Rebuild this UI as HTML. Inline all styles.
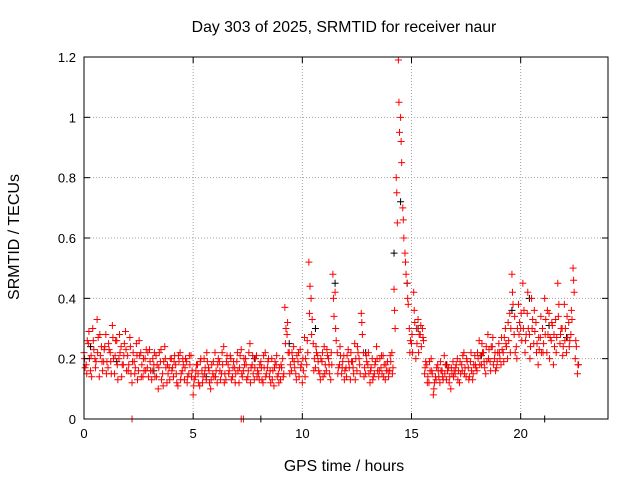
<!DOCTYPE html>
<html><head><meta charset="utf-8"><style>
body{margin:0;background:#fff}
svg{display:block;font-family:"Liberation Sans",sans-serif}
</style></head><body>
<svg id="c" width="640" height="480">
<text x="344" y="32" text-anchor="middle" font-size="15.8">Day 303 of 2025, SRMTID for receiver naur</text>
<text x="344" y="471" text-anchor="middle" font-size="15.8">GPS time / hours</text>
<text transform="translate(19,237) rotate(-90)" text-anchor="middle" font-size="16">SRMTID / TECUs</text>
<g id="grid"></g><g id="marks"></g><g id="axes"></g>
</svg>
<script>
const xTicks=[0,5,10,15,20];
const yTicks=[0,0.2,0.4,0.6,0.8,1,1.2];
const yTickLabels=["0","0.2","0.4","0.6","0.8","1","1.2"];
const redY=[
0.22,0.18,0.25,0.16,0.30,0.20,0.33,0.14,0.24,0.19,
0.28,0.17,0.22,0.31,0.15,0.26,0.20,0.24,0.18,0.29,
0.21,0.27,0.12,0.19,0.25,0.16,0.22,0.14,0.20,0.17,
0.23,0.13,0.18,0.21,0.10,0.19,0.15,0.24,0.12,0.17,
0.20,0.14,0.18,0.11,0.22,0.16,0.13,0.19,0.15,0.21,
0.08,0.14,0.18,0.11,0.16,0.20,0.13,0.17,0.10,0.15,
0.22,0.12,0.19,0.15,0.24,0.13,0.18,0.21,0.14,0.17,
0.19,0.12,0.23,0.16,0.20,0.14,0.25,0.18,0.13,0.21,
0.15,0.19,0.12,0.22,0.17,0.14,0.20,0.11,0.18,0.15,
0.13,0.20,0.37,0.28,0.22,0.16,0.24,0.15,0.19,0.23,
0.12,0.27,0.18,0.52,0.40,0.25,0.17,0.21,0.15,0.19,
0.24,0.16,0.20,0.13,0.48,0.42,0.22,0.18,0.15,0.21,
0.17,0.23,0.13,0.19,0.25,0.16,0.20,0.35,0.22,0.15,
0.18,0.12,0.20,0.15,0.24,0.14,0.17,0.21,0.13,0.19,
0.16,0.22,0.43,0.80,1.19,1.00,0.70,0.55,0.45,0.30,
0.25,0.42,0.20,0.33,0.28,0.30,0.15,0.18,0.12,0.20,
0.08,0.14,0.18,0.12,0.16,0.21,0.13,0.17,0.10,0.19,
0.15,0.20,0.12,0.18,0.22,0.14,0.17,0.19,0.13,0.21,
0.16,0.26,0.18,0.22,0.15,0.28,0.19,0.24,0.20,0.17,
0.25,0.18,0.22,0.30,0.20,0.35,0.48,0.28,0.24,0.38,
0.30,0.45,0.22,0.35,0.28,0.40,0.25,0.32,0.18,0.27,
0.30,0.40,0.22,0.35,0.26,0.18,0.33,0.45,0.25,0.30,
0.38,0.22,0.32,0.28,0.50,0.20,0.15];
const redY2=[
0.17,0.26,0.20,0.14,0.23,0.19,0.27,0.21,0.16,0.24,
0.19,0.23,0.15,0.20,0.26,0.13,0.22,0.18,0.25,0.16,
0.18,0.15,0.22,0.17,0.13,0.21,0.18,0.16,0.23,0.14,
0.16,0.20,0.14,0.18,0.22,0.13,0.19,0.17,0.15,0.20,
0.17,0.21,0.12,0.19,0.15,0.18,0.20,0.14,0.18,0.16,
0.13,0.18,0.12,0.20,0.14,0.17,0.19,0.12,0.18,0.14,
0.16,0.20,0.13,0.18,0.15,0.21,0.16,0.13,0.19,0.15,
0.16,0.21,0.14,0.18,0.13,0.22,0.17,0.15,0.20,0.16,
0.18,0.13,0.17,0.15,0.20,0.12,0.16,0.19,0.14,0.17,
0.17,0.15,0.30,0.22,0.18,0.20,0.17,0.21,0.14,0.18,
0.16,0.20,0.22,0.44,0.33,0.20,0.22,0.16,0.20,0.14,
0.18,0.21,0.15,0.18,0.34,0.26,0.17,0.21,0.19,0.16,
0.21,0.17,0.19,0.15,0.20,0.22,0.15,0.28,0.17,0.19,
0.15,0.17,0.14,0.19,0.16,0.20,0.15,0.18,0.16,0.14,
0.19,0.17,0.30,0.65,0.95,0.85,0.60,0.48,0.38,0.26,
0.22,0.32,0.25,0.28,0.24,0.26,0.19,0.14,0.16,0.15,
0.12,0.17,0.14,0.16,0.13,0.18,0.16,0.14,0.15,0.16,
0.18,0.16,0.15,0.21,0.17,0.19,0.14,0.16,0.18,0.17,
0.20,0.21,0.22,0.17,0.19,0.23,0.24,0.18,0.16,0.22,
0.20,0.23,0.27,0.24,0.26,0.30,0.38,0.22,0.30,0.32,
0.26,0.36,0.28,0.30,0.24,0.33,0.29,0.25,0.23,0.22,
0.25,0.33,0.28,0.27,0.31,0.24,0.27,0.38,0.30,0.24,
0.30,0.27,0.26,0.33,0.42,0.24,0.18];
const redY3=[
0.20,0.15,0.29,0.21,0.26,0.17,0.22,0.28,0.19,0.23,
0.15,0.25,0.19,0.27,0.21,0.18,0.28,0.14,0.21,0.23,
0.16,0.24,0.19,0.15,0.21,0.26,0.14,0.20,0.16,0.22,
0.19,0.16,0.22,0.14,0.17,0.23,0.11,0.20,0.18,0.13,
0.16,0.19,0.15,0.21,0.13,0.20,0.17,0.12,0.21,0.14,
0.11,0.16,0.15,0.19,0.12,0.15,0.22,0.16,0.13,0.19,
0.14,0.18,0.16,0.22,0.12,0.19,0.15,0.20,0.17,0.12,
0.22,0.17,0.15,0.20,0.18,0.16,0.12,0.21,0.17,0.14,
0.13,0.17,0.21,0.14,0.19,0.16,0.13,0.17,0.21,0.12,
0.18,0.14,0.25,0.32,0.15,0.22,0.19,0.13,0.22,0.17,
0.20,0.14,0.26,0.35,0.28,0.16,0.24,0.19,0.13,0.22,
0.15,0.23,0.18,0.22,0.40,0.30,0.15,0.24,0.17,0.13,
0.14,0.19,0.22,0.17,0.13,0.24,0.18,0.32,0.14,0.21,
0.22,0.16,0.13,0.18,0.20,0.16,0.21,0.14,0.18,0.16,
0.21,0.15,0.36,0.75,1.05,0.92,0.66,0.52,0.40,0.22,
0.28,0.36,0.30,0.22,0.31,0.27,0.17,0.12,0.19,0.16,
0.10,0.13,0.16,0.19,0.14,0.15,0.18,0.12,0.17,0.14,
0.17,0.13,0.19,0.16,0.15,0.20,0.13,0.22,0.15,0.18,
0.22,0.18,0.25,0.19,0.24,0.20,0.16,0.27,0.22,0.19,
0.22,0.27,0.19,0.25,0.32,0.22,0.42,0.34,0.20,0.28,
0.35,0.30,0.26,0.42,0.20,0.30,0.36,0.22,0.27,0.34,
0.22,0.28,0.36,0.20,0.32,0.28,0.22,0.34,0.28,0.21,
0.26,0.34,0.24,0.36,0.46,0.26,0.18];
const blackX=[0.3,1.5,3.2,5.6,7.8,9.4,10.6,11.5,12.9,14.2,14.5,14.8,15.3,16.6,18.2,19.6,20.4,21.3,22.1,8.1,21.1];
const blackY=[0.24,0.19,0.16,0.14,0.20,0.25,0.30,0.45,0.22,0.55,0.72,0.45,0.30,0.18,0.21,0.36,0.40,0.31,0.27,0,0];
const zeroRedX=[2.2,7.2,7.3];
const ns="http://www.w3.org/2000/svg";
const L=84,R=608,T=57,B=419,XMAX=24,YMAX=1.2;
const sx=v=>L+v/XMAX*(R-L), sy=v=>B-v/YMAX*(B-T);
function mk(tag,attrs,parent){const e=document.createElementNS(ns,tag);for(const k in attrs)e.setAttribute(k,attrs[k]);parent.appendChild(e);return e;}
const grid=document.getElementById('grid'),marks=document.getElementById('marks'),axes=document.getElementById('axes');
xTicks.forEach(t=>{const x=sx(t);
 if(t>0){const g=mk('line',{x1:x,x2:x,y1:T,y2:B,stroke:'#a0a0a0','stroke-dasharray':'1,2'},grid);
 
 }
 mk('line',{x1:x,x2:x,y1:B,y2:B-6,stroke:'#000'},axes);
 mk('line',{x1:x,x2:x,y1:T,y2:T+6,stroke:'#000'},axes);
 const tx=mk('text',{x:x,y:B+19,'text-anchor':'middle','font-size':13},axes);tx.textContent=t;
 
 });
yTicks.forEach((t,i)=>{const y=sy(t);
 if(t>0&&t<YMAX){const g=mk('line',{x1:L,x2:R,y1:y,y2:y,stroke:'#a0a0a0','stroke-dasharray':'1,2'},grid);
 
 }
 mk('line',{x1:L,x2:L+6,y1:y,y2:y,stroke:'#000'},axes);
 mk('line',{x1:R,x2:R-6,y1:y,y2:y,stroke:'#000'},axes);
 const tx=mk('text',{x:L-8,y:y+5,'text-anchor':'end','font-size':13},axes);tx.textContent=yTickLabels[i];
 
 });
const fr=mk('rect',{x:L,y:T,width:R-L,height:B-T,fill:'none',stroke:'#000'},axes);


function plus(x,y,col,name){const p=mk('path',{d:`M${x-3.5},${y}h7M${x},${y-3.5}v7`,stroke:col,'stroke-width':1,fill:'none'},marks);
 
 }
blackX.forEach((x,i)=>plus(sx(x),sy(blackY[i]),'#000','black-point'));
redY.forEach((v,i)=>plus(sx(i*0.1),sy(v),'#f00','red-point'));
redY2.forEach((v,i)=>plus(sx(i*0.1+0.05),sy(v),'#f00','red-point'));
redY3.forEach((v,i)=>plus(sx(i*0.1+0.025),sy(v),'#f00','red-point'));
zeroRedX.forEach(x=>plus(sx(x),sy(0),'#f00','red-point'));
</script>
</body></html>
